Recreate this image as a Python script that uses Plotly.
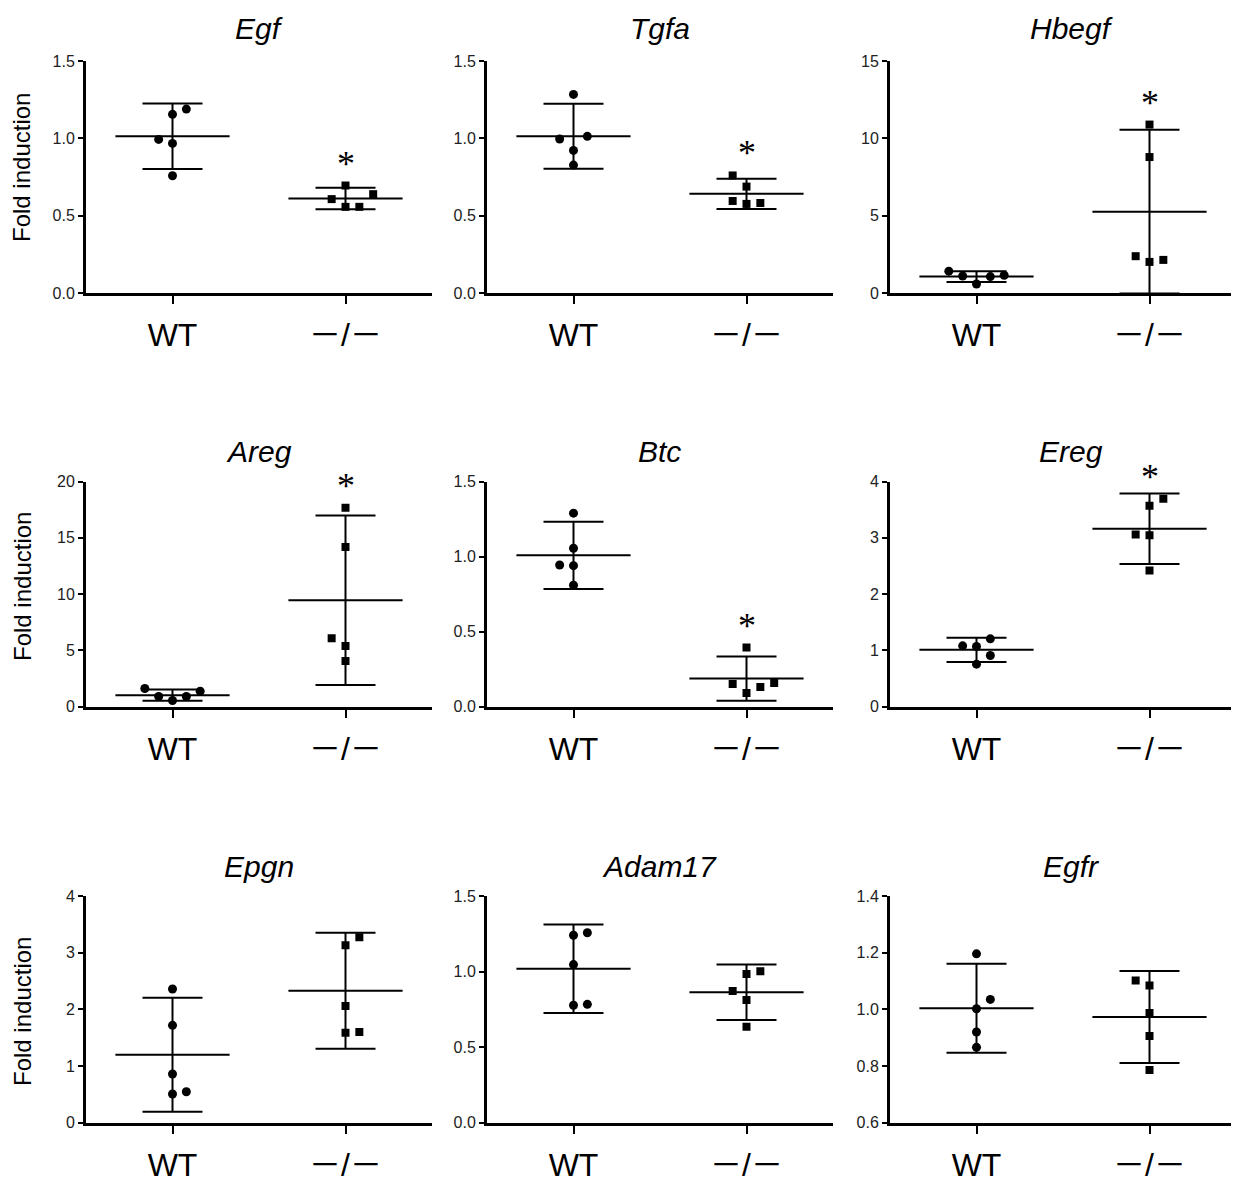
import plotly.graph_objects as go

# ---------------- data ----------------
genes = ["Egf", "Tgfa", "Hbegf", "Areg", "Btc", "Ereg", "Epgn", "Adam17", "Egfr"]
groups = ["WT", "－/－"]

egf_wt = [0.993, 1.155, 1.189, 0.967, 0.758]
egf_ko = [0.607, 0.695, 0.639, 0.557, 0.557]
tgfa_wt = [1.284, 0.996, 1.013, 0.922, 0.827]
tgfa_ko = [0.760, 0.688, 0.595, 0.576, 0.582]
hbegf_wt = [1.41, 1.10, 0.58, 1.06, 1.15]
hbegf_ko = [10.89, 8.79, 2.38, 2.01, 2.14]
areg_wt = [1.60, 0.89, 0.53, 0.89, 1.36]
areg_ko = [17.67, 14.18, 6.06, 5.38, 4.05]
btc_wt = [1.289, 1.055, 0.943, 0.939, 0.808]
btc_ko = [0.393, 0.150, 0.090, 0.130, 0.157]
ereg_wt = [1.079, 1.067, 1.203, 0.907, 0.753]
ereg_ko = [3.692, 3.567, 3.058, 3.046, 2.418]
epgn_wt = [2.359, 1.718, 0.859, 0.506, 0.547]
epgn_ko = [3.271, 3.129, 2.059, 1.588, 1.600]
adam17_wt = [1.240, 1.257, 1.046, 0.777, 0.783]
adam17_ko = [1.002, 0.984, 0.871, 0.812, 0.635]
egfr_wt = [1.196, 1.035, 1.002, 0.920, 0.866]
egfr_ko = [1.102, 1.084, 0.987, 0.906, 0.786]

wt_mean = [1.014, 1.013, 1.06, 1.00, 1.008, 1.007, 1.20, 1.019, 1.004]
wt_sd = [0.212, 0.210, 0.35, 0.50, 0.224, 0.217, 1.006, 0.293, 0.157]
ko_mean = [0.611, 0.641, 5.26, 9.45, 0.186, 3.159, 2.329, 0.863, 0.973]
ko_sd = [0.069, 0.098, 5.30, 7.53, 0.148, 0.626, 1.024, 0.183, 0.162]

significant = [True, True, True, True, True, True, False, False, False]

y_ranges = [[0, 1.5], [0, 1.5], [0, 15], [0, 20], [0, 1.5], [0, 4], [0, 4], [0, 1.5], [0.6, 1.4]]
y_ticks = [
    [0, 0.5, 1.0, 1.5], [0, 0.5, 1.0, 1.5], [0, 5, 10, 15], [0, 5, 10, 15, 20],
    [0, 0.5, 1.0, 1.5], [0, 1, 2, 3, 4], [0, 1, 2, 3, 4], [0, 0.5, 1.0, 1.5],
    [0.6, 0.8, 1.0, 1.2, 1.4],
]
y_tickfmt = [".1f", ".1f", "d", "d", ".1f", "d", "d", ".1f", ".1f"]

wt_values = [egf_wt, tgfa_wt, hbegf_wt, areg_wt, btc_wt, ereg_wt, epgn_wt, adam17_wt, egfr_wt]
ko_values = [egf_ko, tgfa_ko, hbegf_ko, areg_ko, btc_ko, ereg_ko, epgn_ko, adam17_ko, egfr_ko]

# ---------------- layout / style ----------------
# horizontal scatter steps of the points (GraphPad-style jitter)
wt_jitter = [[-1, 0, 1, 0, 0], [0, -1, 1, 0, 0], [-2, -1, 0, 1, 2], [-2, -1, 0, 1, 2],
             [0, 0, -1, 0, 0], [-1, 0, 1, 1, 0], [0, 0, 0, 0, 1], [0, 1, 0, 0, 1], [0, 1, 0, 0, 0]]
ko_jitter = [[-1, 0, 2, 0, 1], [-1, 0, -1, 0, 1], [0, 0, -1, 0, 1], [0, 0, -1, 0, 0],
             [0, -1, 0, 1, 2], [1, 0, -1, 0, 0], [1, 0, 0, 0, 1], [1, 0, -1, 0, 0], [-1, 0, 0, 0, 0]]
JSTEP = 0.08
MEAN_HALF = 0.33

W, H = 1239, 1177
OFF = 8  # page body margin compensation
col_px = [(86, 432), (487, 833), (890, 1236)]
row_px = [(61, 293), (481.5, 706.5), (896, 1122.7)]
ylabel_px = [168, 587, 1012]
FONT = "Liberation Sans, Arial, sans-serif"
CAT_FONT = "Liberation Sans, Noto Sans CJK JP, sans-serif"


def px_x(p):
    return (p - OFF) / W


def px_y(p):
    return 1 - (p - OFF) / H


fig = go.Figure()
annotations = []

for i, gene in enumerate(genes):
    r, c = divmod(i, 3)
    ax = "" if i == 0 else str(i + 1)
    xa, ya = "x" + ax, "y" + ax
    x0, x1 = col_px[c]
    yt, yb = row_px[r]
    xdom = [px_x(x0), px_x(x1)]
    ydom = [px_y(yb), px_y(yt)]

    for g, (vals, jit, mean, sd, sym, msize) in enumerate([
        (wt_values[i], wt_jitter[i], wt_mean[i], wt_sd[i], "circle", 9),
        (ko_values[i], ko_jitter[i], ko_mean[i], ko_sd[i], "square", 8),
    ]):
        # mean line + SD whiskers
        fig.add_trace(go.Scatter(
            x=[g], y=[mean], mode="markers", xaxis=xa, yaxis=ya,
            marker=dict(size=1, color="rgba(0,0,0,0)"),
            error_x=dict(type="data", array=[MEAN_HALF], width=0, thickness=2, color="black"),
            error_y=dict(type="data", array=[sd], width=30, thickness=2, color="black"),
            showlegend=False, hoverinfo="skip",
        ))
        # individual points
        fig.add_trace(go.Scatter(
            x=[g + j * JSTEP for j in jit], y=vals, mode="markers", xaxis=xa, yaxis=ya,
            marker=dict(symbol=sym, size=msize, color="black"),
            showlegend=False,
        ))

    fig.layout["xaxis" + ax] = dict(
        domain=xdom, anchor=ya, range=[-0.5, 1.5], tickvals=[0, 1], ticktext=groups,
        showline=True, linewidth=3, linecolor="black", ticks="outside", ticklen=8,
        tickwidth=2, tickcolor="black", showgrid=False, zeroline=False,
        tickfont=dict(family=CAT_FONT, size=32, color="black"), ticklabelstandoff=4,
        automargin=False, fixedrange=True,
    )
    fig.layout["yaxis" + ax] = dict(
        domain=ydom, anchor=xa, range=y_ranges[i], tickvals=y_ticks[i],
        tickformat=y_tickfmt[i], showline=True, linewidth=3, linecolor="black",
        ticks="outside", ticklen=5, tickwidth=2, tickcolor="black", showgrid=False,
        zeroline=False, tickfont=dict(family=FONT, size=16, color="#222"),
        automargin=False, fixedrange=True,
    )

    # panel title
    annotations.append(dict(
        text="<i>" + gene + "</i>", xref="paper", yref="paper",
        x=(xdom[0] + xdom[1]) / 2, y=ydom[1], yshift=33 if r == 0 else 30,
        xshift=8 if c == 2 else 0,
        xanchor="center", yanchor="middle", showarrow=False,
        font=dict(family=FONT, size=30, color="black"),
    ))
    # significance asterisk
    if significant[i]:
        annotations.append(dict(
            text="*", xref=xa, yref=ya, x=1, y=max(ko_values[i]), yshift=22,
            xanchor="center", yanchor="middle", showarrow=False,
            font=dict(family="Liberation Serif, Times New Roman, serif", size=36, color="black"),
        ))
    # y-axis title on the first column
    if c == 0:
        annotations.append(dict(
            text="Fold induction", xref="paper", yref="paper",
            x=px_x(22), y=px_y(ylabel_px[r]), textangle=-90,
            xanchor="center", yanchor="middle", showarrow=False,
            font=dict(family=FONT, size=24, color="black"),
        ))

fig.update_layout(
    width=W, height=H, margin=dict(l=0, r=0, t=0, b=0),
    paper_bgcolor="white", plot_bgcolor="white",
    annotations=annotations, showlegend=False,
)

fig.write_html("out.html")
